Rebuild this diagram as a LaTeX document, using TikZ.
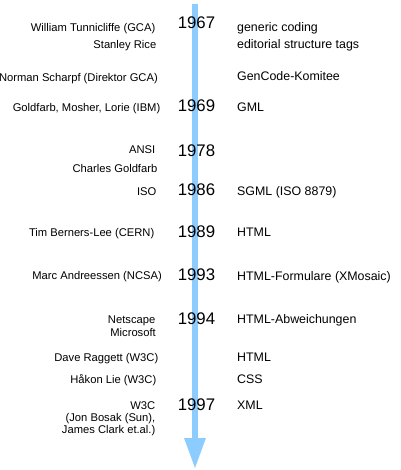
\documentclass[tikz,border=0pt]{standalone}
\usepackage{fontspec}
\setmainfont{Liberation Sans}
\usetikzlibrary{arrows.meta}
\definecolor{timeblue}{RGB}{140,204,255}
\begin{document}
\begin{tikzpicture}[x=1pt, y=-1pt,
  who/.style={anchor=base east, inner sep=0pt, font=\fontsize{11.2}{13}\selectfont},
  what/.style={anchor=base west, inner sep=0pt, font=\fontsize{12.4}{14}\selectfont},
  year/.style={anchor=base, inner sep=0pt, font=\fontsize{16.8}{19}\selectfont}]
  \useasboundingbox (0,0) rectangle (400,470);

  % time axis
  \coordinate (top) at (195,4);
  \coordinate (bottom) at (195,469);
  \draw[timeblue, line width=6pt, -{Triangle[width=20pt, length=31pt]}] (top) -- (bottom);

  % years
  \foreach \y/\yr [count=\i] in {28.5/1967, 111.5/1969, 156.5/1978, 196/1986,
                                 237.5/1989, 280.5/1993, 324/1994, 410.5/1997}{
    \node[year] (year\i) at (196.5, \y) {\yr};
  }

  % people
  \foreach \x/\y/\txt [count=\i] in {155.5/32/{William Tunnicliffe (GCA)},
      156.5/49/{Stanley Rice}, 158/81.5/{Norman Scharpf (Direktor GCA)},
      160.5/112/{Goldfarb, Mosher, Lorie (IBM)}, 155.5/154/{ANSI},
      157.5/172.5/{Charles Goldfarb}, 156.5/195/{ISO},
      154.5/236.5/{Tim Berners-Lee (CERN)}, 162/279.5/{Marc Andreessen (NCSA)},
      155.5/323/{Netscape}, 156/336.5/{Microsoft},
      158.5/361.5/{Dave Raggett (W3C)}, 156.5/383/{Håkon Lie (W3C)},
      155.5/409/{W3C}, 155.5/421/{(Jon Bosak (Sun),},
      155.5/433.5/{James Clark et.al.)}}{
    \node[who] (who\i) at (\x, \y) {\txt};
  }

  % results
  \foreach \y/\txt [count=\i] in {32/{generic coding},
      49/{editorial structure tags}, 80.5/{GenCode-Komitee}, 112/{GML},
      195/{SGML (ISO 8879)}, 236.5/{HTML}, 280/{HTML-Formulare (XMosaic)},
      323/{HTML-Abweichungen}, 361.5/{HTML}, 383/{CSS}, 409/{XML}}{
    \node[what] (what\i) at (237, \y) {\txt};
  }
\end{tikzpicture}
\end{document}
